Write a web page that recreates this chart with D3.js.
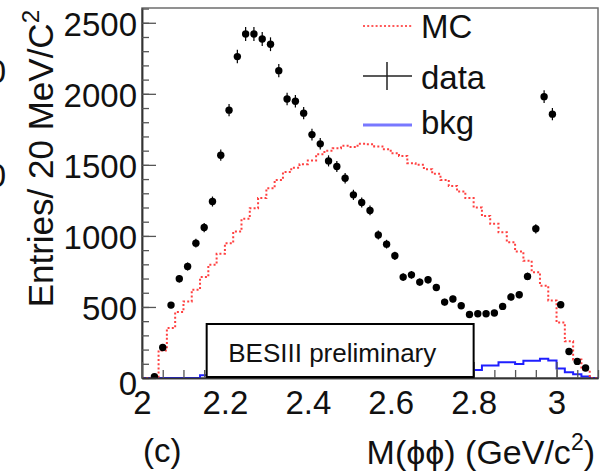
<!DOCTYPE html>
<html>
<head>
<meta charset="utf-8">
<script src="https://cdn.jsdelivr.net/npm/d3@7"></script>
<style>
  body { margin: 0; background: #fff; }
  svg { display: block; font-family: "Liberation Sans", Arial, Helvetica, sans-serif; }
</style>
</head>
<body>
<svg width="612" height="474"></svg>
<script>
// M(phi phi) spectrum, 20 MeV bins starting at 2.00 GeV/c^2
var binStart = 2.0;
var binWidth = 0.02;

// data points (bins 1..53), entries per bin
var dataValues = [10, 215, 513, 698, 785, 949, 1059, 1242, 1568, 1885,
  2262, 2421, 2421, 2386, 2349, 2163, 1964, 1948, 1864, 1713,
  1648, 1528, 1488, 1406, 1289, 1235, 1179, 1006, 942, 860,
  710, 726, 675, 691, 637, 534, 556, 508, 447, 452,
  452, 457, 504, 570, 586, 715, 1050, 1980, 1857, 515,
  187, 117, 70];
var dataFirstBin = 1;

// MC histogram, bins 0..54
var mcValues = [0, 0, 194, 352, 464, 539, 621, 710, 797, 874,
  949, 1031, 1120, 1195, 1266, 1335, 1394, 1450, 1480, 1505,
  1530, 1575, 1600, 1617, 1634, 1625, 1648, 1645, 1630, 1610,
  1582, 1563, 1512, 1500, 1470, 1437, 1394, 1352, 1312, 1266,
  1200, 1140, 1085, 1025, 955, 890, 825, 745, 650, 545,
  390, 258, 130, 58, 0];

// background histogram, bins 0..54
var bkgValues = [0, 0, 0, 0, 0, 0, 0, 20, 22, 25,
  28, 30, 30, 32, 33, 35, 36, 38, 40, 40,
  42, 43, 45, 45, 47, 48, 50, 50, 52, 52,
  53, 55, 55, 56, 57, 57, 58, 58, 59, 57,
  57, 88, 88, 110, 110, 98, 122, 122, 136, 124,
  66, 40, 27, 11, 0];

var xTicks = [2, 2.2, 2.4, 2.6, 2.8, 3];
var yTicks = [0, 500, 1000, 1500, 2000, 2500];
var legendLabels = ["MC", "data", "bkg"];

var margin = {top: 8, right: 14, bottom: 96, left: 142};
var width = 612 - margin.left - margin.right;
var height = 474 - margin.top - margin.bottom;

var svg = d3.select("svg");

// bits of the neighbouring panel cut off at the left edge
svg.selectAll("text.cut").data([83, 187]).enter()
  .append("text").attr("class", "cut")
  .attr("x", 6).attr("y", function(d) { return d; })
  .attr("text-anchor", "end")
  .attr("font-size", 33).attr("fill", "#111")
  .text("0");

var g = svg.append("g")
  .attr("transform", "translate(" + margin.left + "," + margin.top + ")");

var x = d3.scaleLinear().domain([2.0, 3.1]).range([0, width]);
var y = d3.scaleLinear().domain([0, 2604]).range([height, 0]);

g.append("clipPath").attr("id", "plotclip")
  .append("rect").attr("width", width).attr("height", height);

// frame
g.append("rect")
  .attr("width", width).attr("height", height)
  .attr("fill", "none").attr("stroke", "#6e6e6e").attr("stroke-width", 1.5);

// step histogram helper
function stepPoints(vals) {
  var pts = vals.map(function(v, i) { return [binStart + i * binWidth, v]; });
  pts.push([binStart + vals.length * binWidth, vals[vals.length - 1]]);
  return pts;
}
var stepLine = d3.line()
  .x(function(d) { return x(d[0]); })
  .y(function(d) { return y(d[1]); })
  .curve(d3.curveStepAfter);

var plot = g.append("g").attr("clip-path", "url(#plotclip)");

plot.append("path")
  .datum(stepPoints(bkgValues))
  .attr("d", stepLine)
  .attr("fill", "none")
  .attr("stroke", "#1f1fff")
  .attr("stroke-width", 2);

plot.append("path")
  .datum(stepPoints(mcValues))
  .attr("d", stepLine)
  .attr("fill", "none")
  .attr("stroke", "#ff4040")
  .attr("stroke-width", 2)
  .attr("stroke-dasharray", "2,2.2");

// data with poisson error bars
var pts = dataValues.map(function(v, i) {
  return {m: binStart + (dataFirstBin + i + 0.5) * binWidth, n: v};
});
plot.selectAll("line.err").data(pts).enter()
  .append("line").attr("class", "err")
  .attr("x1", function(d) { return x(d.m); })
  .attr("x2", function(d) { return x(d.m); })
  .attr("y1", function(d) { return y(d.n - Math.sqrt(d.n)); })
  .attr("y2", function(d) { return y(d.n + Math.sqrt(d.n)); })
  .attr("stroke", "#000").attr("stroke-width", 1.2);
plot.selectAll("circle.pt").data(pts).enter()
  .append("circle").attr("class", "pt")
  .attr("cx", function(d) { return x(d.m); })
  .attr("cy", function(d) { return y(d.n); })
  .attr("r", 3.7)
  .attr("fill", "#000");

// axes, ticks pointing inside
var yAxis = g.append("g")
  .call(d3.axisLeft(y).tickValues(yTicks).tickSize(-14).tickSizeOuter(0).tickPadding(5)
    .tickFormat(d3.format("d")));
g.append("g")
  .call(d3.axisLeft(y).tickValues(d3.range(0, 2601, 100)).tickSize(-7).tickSizeOuter(0).tickFormat(""));
var xAxis = g.append("g")
  .attr("transform", "translate(0," + height + ")")
  .call(d3.axisBottom(x).tickValues(xTicks).tickSize(-16).tickSizeOuter(0).tickPadding(13)
    .tickFormat(d3.format("")));
g.append("g")
  .attr("transform", "translate(0," + height + ")")
  .call(d3.axisBottom(x).tickValues(d3.range(2.05, 3.1, 0.05)).tickSize(-8).tickSizeOuter(0).tickFormat(""));

g.selectAll(".domain").attr("stroke", "#333").attr("stroke-width", 1.5);
g.selectAll(".tick line").attr("stroke", "#555").attr("stroke-width", 1.3);
yAxis.selectAll("text")
  .attr("font-size", 33).attr("fill", "#111")
  .attr("font-family", "Liberation Sans, Arial, sans-serif")
  .attr("dy", function(d) { return d === 0 ? "0.5em" : "0.38em"; });
xAxis.selectAll("text")
  .attr("font-size", 33).attr("fill", "#111")
  .attr("font-family", "Liberation Sans, Arial, sans-serif");

// BESIII label box
g.append("rect")
  .attr("x", x(2.156)).attr("y", y(380))
  .attr("width", x(2.8) - x(2.156)).attr("height", y(0) - y(380) - 1)
  .attr("fill", "#fff").attr("stroke", "#000").attr("stroke-width", 2);
g.append("text")
  .attr("x", x(2.208)).attr("y", y(115))
  .attr("font-size", 26).attr("fill", "#111")
  .text("BESIII preliminary");

// axis titles
svg.append("text")
  .attr("transform", "translate(53,10) rotate(-90)")
  .attr("text-anchor", "end")
  .attr("font-size", 35).attr("fill", "#111")
  .html('Entries/ 20 MeV/C<tspan dy="-14" font-size="24">2</tspan>');
svg.append("text")
  .attr("x", 595).attr("y", 464)
  .attr("text-anchor", "end")
  .attr("font-size", 34).attr("fill", "#111")
  .html('M(\u03d5\u03d5) (GeV/c<tspan dy="-14" font-size="23">2</tspan><tspan dy="14">)</tspan>');
svg.append("text")
  .attr("x", 143).attr("y", 462)
  .attr("font-size", 33).attr("fill", "#111")
  .text("(c)");

// legend
var leg = svg.append("g");
var legY = [26, 76, 125];
var legBase = [38, 89, 134];
leg.append("line")
  .attr("x1", 363).attr("x2", 412).attr("y1", legY[0]).attr("y2", legY[0])
  .attr("stroke", "#ff5a5a").attr("stroke-width", 2).attr("stroke-dasharray", "2,2.2");
leg.append("line")
  .attr("x1", 363).attr("x2", 412).attr("y1", legY[1]).attr("y2", legY[1])
  .attr("stroke", "#222").attr("stroke-width", 1.5);
leg.append("line")
  .attr("x1", 387).attr("x2", 387).attr("y1", legY[1] - 14).attr("y2", legY[1] + 14)
  .attr("stroke", "#222").attr("stroke-width", 1.5);
leg.append("line")
  .attr("x1", 363).attr("x2", 412).attr("y1", legY[2]).attr("y2", legY[2])
  .attr("stroke", "#7878ff").attr("stroke-width", 3);
leg.selectAll("text.lab").data(legendLabels).enter()
  .append("text").attr("class", "lab")
  .attr("x", 421)
  .attr("y", function(d, i) { return legBase[i]; })
  .attr("font-size", 33).attr("fill", "#111")
  .text(function(d) { return d; });
</script>
</body>
</html>
